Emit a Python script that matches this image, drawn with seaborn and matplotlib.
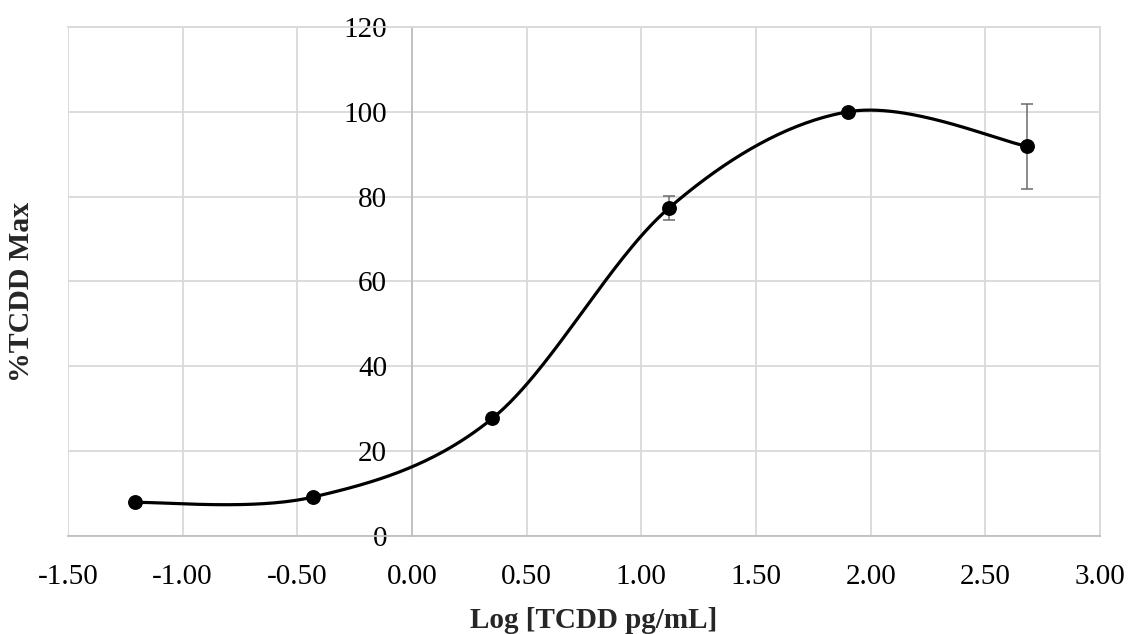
import numpy as np
import pandas as pd
import matplotlib
matplotlib.use("Agg")
import matplotlib.pyplot as plt
import seaborn as sns

# ---- data ----
log_conc = [-1.21, -0.43, 0.35, 1.12, 1.90, 2.68]
pct_max = [7.9, 9.2, 27.7, 77.3, 100.0, 91.9]
err = [0.0, 0.0, 0.0, 2.85, 0.0, 10.0]
x_ticks = [-1.5, -1.0, -0.5, 0.0, 0.5, 1.0, 1.5, 2.0, 2.5, 3.0]
y_ticks = [0, 20, 40, 60, 80, 100, 120]
x_label = "Log [TCDD pg/mL]"
y_label = "%TCDD Max"


def excel_smooth(xs, ys, n=60):
    """Bezier smoothing similar to spreadsheet 'smoothed line'."""
    P = np.column_stack([xs, ys]).astype(float)
    m = len(P)
    out = []
    for i in range(m - 1):
        p0 = P[i]
        p3 = P[i + 1]
        prev = P[i - 1] if i > 0 else P[i]
        nxt = P[i + 2] if i + 2 < m else P[i + 1]
        c1 = p0 + (p3 - prev) / 6.0
        c2 = p3 - (nxt - p0) / 6.0
        t = np.linspace(0, 1, n)[:, None]
        seg = ((1 - t) ** 3) * p0 + 3 * ((1 - t) ** 2) * t * c1 + 3 * (1 - t) * t ** 2 * c2 + t ** 3 * p3
        if i > 0:
            seg = seg[1:]
        out.append(seg)
    return np.vstack(out)


sns.set_theme(style="whitegrid")
plt.rcParams["font.family"] = ["Liberation Serif", "DejaVu Serif"]

fig = plt.figure(figsize=(11.37, 6.34), dpi=100)
ax = fig.add_axes([0.0598, 0.1546, 0.9077, 0.8028])

df = pd.DataFrame({"x": log_conc, "y": pct_max, "e": err})
curve = excel_smooth(log_conc, pct_max)
cdf = pd.DataFrame({"x": curve[:, 0], "y": curve[:, 1]})

# error bars
mask = df["e"] > 0
ax.errorbar(df.loc[mask, "x"], df.loc[mask, "y"], yerr=df.loc[mask, "e"],
            fmt="none", ecolor="#6b6b6b", elinewidth=1.1, capsize=4.5,
            capthick=1.1, zorder=3)

sns.lineplot(data=cdf, x="x", y="y", sort=False, color="black",
             linewidth=2.3, ax=ax, zorder=4)
sns.scatterplot(data=df, x="x", y="y", color="black", s=115,
                edgecolor="black", linewidth=0, ax=ax, zorder=5)

ax.set_xlim(-1.5, 3.0)
ax.set_ylim(0, 120)
ax.set_xticks(x_ticks)
ax.set_yticks(y_ticks)
ax.set_xticklabels([f"{v:.2f}" for v in x_ticks])
ax.set_yticklabels([str(v) for v in y_ticks])

ax.grid(True, color="#d9d9d9", linewidth=1.3)
ax.set_axisbelow(True)

for side in ["top", "right"]:
    ax.spines[side].set_color("#d9d9d9")
    ax.spines[side].set_linewidth(1.3)
ax.spines["left"].set_position(("data", 0))
ax.spines["left"].set_color("#bfbfbf")
ax.spines["left"].set_linewidth(1.3)
ax.spines["bottom"].set_color("#bfbfbf")
ax.spines["bottom"].set_linewidth(1.3)

ax.tick_params(axis="both", length=0, labelsize=21, colors="black")
ax.tick_params(axis="x", pad=20)
ax.tick_params(axis="y", pad=18)

ax.set_xlabel("")
ax.set_ylabel("")
fig.text(0.5225, 0.022, x_label, fontsize=21, fontweight="bold",
         ha="center", va="center")
fig.text(0.0193, 0.54, y_label, rotation=90, fontsize=21.5, fontweight="bold",
         ha="center", va="center")

fig.savefig("out.png", dpi=100)
